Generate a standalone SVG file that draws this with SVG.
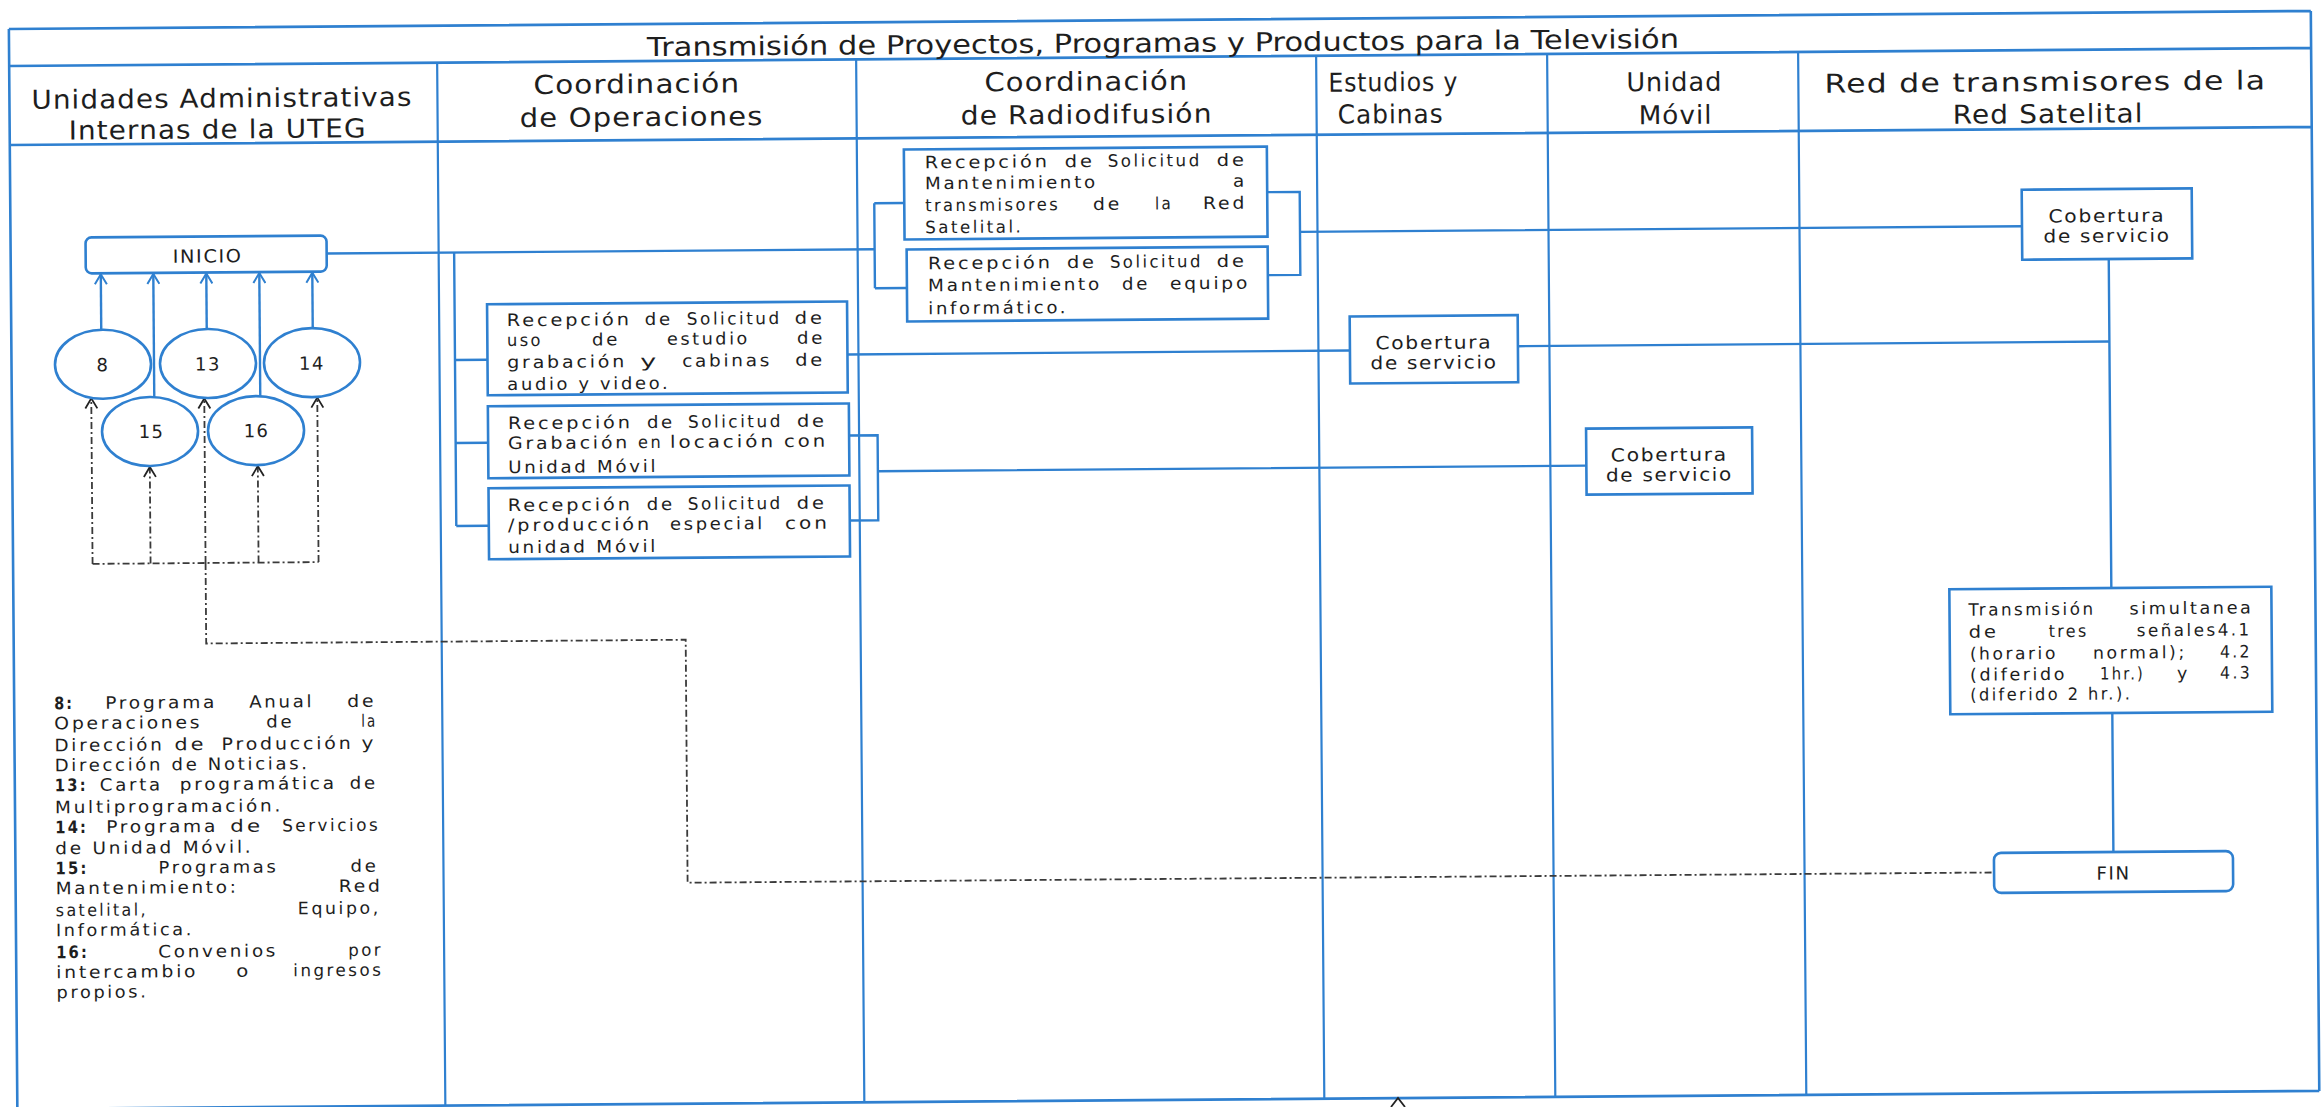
<svg xmlns="http://www.w3.org/2000/svg" width="2323" height="1107" viewBox="0 0 2323 1107">
<defs>
<style>
.fr{fill:none;stroke:#2f80d0;stroke-width:2.6}
.ls{fill:none;stroke:#2f80d0;stroke-width:2.2}
.cn{fill:none;stroke:#2f80d0;stroke-width:2.4}
.bx{fill:#fff;stroke:#2f80d0;stroke-width:2.6}
.el{fill:#fff;stroke:#2f80d0;stroke-width:2.6}
.ds{fill:none;stroke:#3a3a3a;stroke-width:1.8;stroke-dasharray:7 3 2 3}
.t{font-family:"DejaVu Sans","Liberation Sans",sans-serif;fill:#1e1e1e}
.h{font-size:26px;letter-spacing:1px}
.ti{font-size:26px}
.s16{font-size:17px;letter-spacing:2.5px}
.s18{font-size:18px;letter-spacing:1.5px}
.bd{font-weight:bold}
.mid{text-anchor:middle}
</style>
<marker id="ab" markerUnits="userSpaceOnUse" viewBox="0 0 12 14" markerWidth="12" markerHeight="14" refX="11" refY="7" orient="auto">
<path d="M1,1 L11,7 L1,13" fill="none" stroke="#2f80d0" stroke-width="2"/>
</marker>
<marker id="ak" markerUnits="userSpaceOnUse" viewBox="0 0 12 14" markerWidth="12" markerHeight="14" refX="11" refY="7" orient="auto">
<path d="M1,1 L11,7 L1,13" fill="none" stroke="#222" stroke-width="1.8" stroke-dasharray="none"/>
</marker>
</defs>
<rect width="2323" height="1107" fill="#fff"/>
<g transform="rotate(-0.45 1160 550)">
<g id="frame">
<path class="fr" d="M13,20 H2315 M13,57 H2315 M13,136 H2315 M13,20 V1100 M2315,20 V1100 M13,1100 H2315"/>
<path class="ls" d="M441,57 V1100 M860,57 V1100 M1320,57 V1100 M1551,57 V1100 M1802,57 V1100"/>
<text class="t ti" x="651" y="52" textLength="1032" lengthAdjust="spacingAndGlyphs">Transmisión de Proyectos, Programas y Productos para la Televisión</text>
<text class="t h" x="35" y="100" textLength="381" lengthAdjust="spacingAndGlyphs">Unidades Administrativas</text>
<text class="t h" x="72" y="131" textLength="298" lengthAdjust="spacingAndGlyphs">Internas de la UTEG</text>
<text class="t h" x="537" y="89" textLength="207" lengthAdjust="spacingAndGlyphs">Coordinación</text>
<text class="t h" x="523" y="122" textLength="244" lengthAdjust="spacingAndGlyphs">de Operaciones</text>
<text class="t h" x="988" y="90" textLength="204" lengthAdjust="spacingAndGlyphs">Coordinación</text>
<text class="t h" x="964" y="123" textLength="252" lengthAdjust="spacingAndGlyphs">de Radiodifusión</text>
<text class="t h" x="1332" y="93" textLength="130" lengthAdjust="spacingAndGlyphs">Estudios y</text>
<text class="t h" x="1341" y="125" textLength="106" lengthAdjust="spacingAndGlyphs">Cabinas</text>
<text class="t h" x="1630" y="95" textLength="96" lengthAdjust="spacingAndGlyphs">Unidad</text>
<text class="t h" x="1642" y="128" textLength="74" lengthAdjust="spacingAndGlyphs">Móvil</text>
<text class="t h" x="1828" y="98" textLength="442" lengthAdjust="spacingAndGlyphs">Red de transmisores de la</text>
<text class="t h" x="1956" y="130" textLength="191" lengthAdjust="spacingAndGlyphs">Red Satelital</text>
</g>
<g id="connectors">
<path class="cn" d="M329,247 H877"/>
<path class="cn" d="M456.5,247 V520.5 M456.5,354.5 H489 M456.5,437.5 H489 M456.5,520.5 H489"/>
<path class="cn" d="M877,201 V286 M877,201 H907 M877,286 H909"/>
<path class="cn" d="M1270,193 H1302.5 V276 H1270 M1302.5,233 H2024.5"/>
<path class="cn" d="M849,352 H1351.5"/>
<path class="cn" d="M1519.5,349 H2111"/>
<path class="cn" d="M850,433 H878.5 V518 H850 M878.5,469 H1587"/>
<path class="cn" d="M2111,266.5 V595.5 M2111,720.5 V859.5"/>
<path class="cn" marker-end="url(#ab)" d="M103,321.5 V266"/>
<path class="cn" marker-end="url(#ab)" d="M155.5,389 V266"/>
<path class="cn" marker-end="url(#ab)" d="M208.5,321.5 V266"/>
<path class="cn" marker-end="url(#ab)" d="M261.5,389 V266"/>
<path class="cn" marker-end="url(#ab)" d="M314.5,321.5 V266"/>
<path class="ds" d="M92.5,555.5 H318.5"/>
<path class="ds" marker-end="url(#ak)" d="M92.5,555.5 V390"/>
<path class="ds" marker-end="url(#ak)" d="M150.5,555.5 V459"/>
<path class="ds" marker-end="url(#ak)" d="M205.5,555.5 V391"/>
<path class="ds" marker-end="url(#ak)" d="M258.5,555.5 V459"/>
<path class="ds" marker-end="url(#ak)" d="M318.5,555.5 V391"/>
<path class="ds" d="M205.5,555.5 V636 H685 V879 H1991.5"/>
</g>
<g id="inicio">
<rect class="bx" x="88" y="229" width="241" height="36" rx="6"/>
<text class="t s18" x="175" y="255" textLength="70" lengthAdjust="spacingAndGlyphs">INICIO</text>
</g>
<g id="n8"><ellipse class="el" cx="104.5" cy="356" rx="48" ry="34.5"/><text class="t s18 mid" x="104.5" y="363">8</text></g>
<g id="n13"><ellipse class="el" cx="209.5" cy="356" rx="48" ry="34.5"/><text class="t s18 mid" x="209.5" y="363">13</text></g>
<g id="n14"><ellipse class="el" cx="313.5" cy="356" rx="48" ry="34.5"/><text class="t s18 mid" x="313.5" y="363">14</text></g>
<g id="n15"><ellipse class="el" cx="151" cy="423.5" rx="48" ry="34.5"/><text class="t s18 mid" x="152.5" y="430">15</text></g>
<g id="n16"><ellipse class="el" cx="257" cy="423.5" rx="48" ry="34.5"/><text class="t s18 mid" x="257.5" y="430">16</text></g>
<g id="leyenda">
<text class="t s16" y="700.5"><tspan class="bd" x="53" textLength="20" lengthAdjust="spacingAndGlyphs">8:</tspan> <tspan x="104" textLength="112" lengthAdjust="spacingAndGlyphs">Programa</tspan> <tspan x="248" textLength="65" lengthAdjust="spacingAndGlyphs">Anual</tspan> <tspan x="346" textLength="29" lengthAdjust="spacingAndGlyphs">de</tspan></text>
<text class="t s16" y="720.5"><tspan x="53" textLength="148" lengthAdjust="spacingAndGlyphs">Operaciones</tspan> <tspan x="265" textLength="28" lengthAdjust="spacingAndGlyphs">de</tspan> <tspan x="360" textLength="16" lengthAdjust="spacingAndGlyphs">la</tspan></text>
<text class="t s16" y="742.5"><tspan x="53" textLength="110" lengthAdjust="spacingAndGlyphs">Dirección</tspan> <tspan x="173" textLength="32" lengthAdjust="spacingAndGlyphs">de</tspan> <tspan x="220" textLength="132" lengthAdjust="spacingAndGlyphs">Producción</tspan> <tspan x="360" textLength="15" lengthAdjust="spacingAndGlyphs">y</tspan></text>
<text class="t s16" x="53" y="762.5" textLength="255" lengthAdjust="spacingAndGlyphs">Dirección de Noticias.</text>
<text class="t s16" y="782.5"><tspan class="bd" x="53" textLength="33" lengthAdjust="spacingAndGlyphs">13:</tspan> <tspan x="98" textLength="63" lengthAdjust="spacingAndGlyphs">Carta</tspan> <tspan x="178" textLength="157" lengthAdjust="spacingAndGlyphs">programática</tspan> <tspan x="348" textLength="28" lengthAdjust="spacingAndGlyphs">de</tspan></text>
<text class="t s16" x="53" y="804.5" textLength="228" lengthAdjust="spacingAndGlyphs">Multiprogramación.</text>
<text class="t s16" y="824.5"><tspan class="bd" x="53" textLength="33" lengthAdjust="spacingAndGlyphs">14:</tspan> <tspan x="104" textLength="112" lengthAdjust="spacingAndGlyphs">Programa</tspan> <tspan x="228" textLength="33" lengthAdjust="spacingAndGlyphs">de</tspan> <tspan x="280" textLength="98" lengthAdjust="spacingAndGlyphs">Servicios</tspan></text>
<text class="t s16" x="53" y="845.5" textLength="198" lengthAdjust="spacingAndGlyphs">de Unidad Móvil.</text>
<text class="t s16" y="865.5"><tspan class="bd" x="53" textLength="33" lengthAdjust="spacingAndGlyphs">15:</tspan> <tspan x="156" textLength="120" lengthAdjust="spacingAndGlyphs">Programas</tspan> <tspan x="348" textLength="28" lengthAdjust="spacingAndGlyphs">de</tspan></text>
<text class="t s16" y="885.5"><tspan x="53" textLength="183" lengthAdjust="spacingAndGlyphs">Mantenimiento:</tspan> <tspan x="336" textLength="44" lengthAdjust="spacingAndGlyphs">Red</tspan></text>
<text class="t s16" y="907.5"><tspan x="53" textLength="92" lengthAdjust="spacingAndGlyphs">satelital,</tspan> <tspan x="295" textLength="83" lengthAdjust="spacingAndGlyphs">Equipo,</tspan></text>
<text class="t s16" x="53" y="927.5" textLength="138" lengthAdjust="spacingAndGlyphs">Informática.</text>
<text class="t s16" y="949.5"><tspan class="bd" x="53" textLength="33" lengthAdjust="spacingAndGlyphs">16:</tspan> <tspan x="155" textLength="120" lengthAdjust="spacingAndGlyphs">Convenios</tspan> <tspan x="345" textLength="35" lengthAdjust="spacingAndGlyphs">por</tspan></text>
<text class="t s16" y="969.5"><tspan x="53" textLength="142" lengthAdjust="spacingAndGlyphs">intercambio</tspan> <tspan x="233" textLength="15" lengthAdjust="spacingAndGlyphs">o</tspan> <tspan x="290" textLength="90" lengthAdjust="spacingAndGlyphs">ingresos</tspan></text>
<text class="t s16" x="53" y="989.5" textLength="92" lengthAdjust="spacingAndGlyphs">propios.</text>
</g>
<g id="op1">
<rect class="bx" x="489" y="299" width="360" height="91"/>
<text class="t s16" y="321"><tspan x="508.6" textLength="125" lengthAdjust="spacingAndGlyphs">Recepción</tspan> <tspan x="646.6" textLength="28" lengthAdjust="spacingAndGlyphs">de</tspan> <tspan x="688.6" textLength="95" lengthAdjust="spacingAndGlyphs">Solicitud</tspan> <tspan x="796.6" textLength="30" lengthAdjust="spacingAndGlyphs">de</tspan></text>
<text class="t s16" y="341"><tspan x="508.6" textLength="36" lengthAdjust="spacingAndGlyphs">uso</tspan> <tspan x="593.6" textLength="28" lengthAdjust="spacingAndGlyphs">de</tspan> <tspan x="668.6" textLength="83" lengthAdjust="spacingAndGlyphs">estudio</tspan> <tspan x="798.6" textLength="28" lengthAdjust="spacingAndGlyphs">de</tspan></text>
<text class="t s16" y="363"><tspan x="508.6" textLength="120" lengthAdjust="spacingAndGlyphs">grabación</tspan> <tspan x="641.6" textLength="20" lengthAdjust="spacingAndGlyphs">y</tspan> <tspan x="683.6" textLength="90" lengthAdjust="spacingAndGlyphs">cabinas</tspan> <tspan x="796.6" textLength="30" lengthAdjust="spacingAndGlyphs">de</tspan></text>
<text class="t s16" x="508.6" y="385" textLength="163" lengthAdjust="spacingAndGlyphs">audio y video.</text>
</g>
<g id="op2">
<rect class="bx" x="489" y="401" width="361" height="72"/>
<text class="t s16" y="424"><tspan x="508.9" textLength="125" lengthAdjust="spacingAndGlyphs">Recepción</tspan> <tspan x="647.9" textLength="28" lengthAdjust="spacingAndGlyphs">de</tspan> <tspan x="688.9" textLength="95" lengthAdjust="spacingAndGlyphs">Solicitud</tspan> <tspan x="797.9" textLength="30" lengthAdjust="spacingAndGlyphs">de</tspan></text>
<text class="t s16" y="444"><tspan x="508.9" textLength="122" lengthAdjust="spacingAndGlyphs">Grabación</tspan> <tspan x="638.9" textLength="25" lengthAdjust="spacingAndGlyphs">en</tspan> <tspan x="670.9" textLength="106" lengthAdjust="spacingAndGlyphs">locación</tspan> <tspan x="784.9" textLength="44" lengthAdjust="spacingAndGlyphs">con</tspan></text>
<text class="t s16" x="508.9" y="468" textLength="150" lengthAdjust="spacingAndGlyphs">Unidad Móvil</text>
</g>
<g id="op3">
<rect class="bx" x="489" y="483" width="361" height="71"/>
<text class="t s16" y="506"><tspan x="508.2" textLength="125" lengthAdjust="spacingAndGlyphs">Recepción</tspan> <tspan x="647.2" textLength="28" lengthAdjust="spacingAndGlyphs">de</tspan> <tspan x="688.2" textLength="95" lengthAdjust="spacingAndGlyphs">Solicitud</tspan> <tspan x="797.2" textLength="30" lengthAdjust="spacingAndGlyphs">de</tspan></text>
<text class="t s16" y="526"><tspan x="508.2" textLength="144" lengthAdjust="spacingAndGlyphs">/producción</tspan> <tspan x="670.2" textLength="95" lengthAdjust="spacingAndGlyphs">especial</tspan> <tspan x="785.2" textLength="45" lengthAdjust="spacingAndGlyphs">con</tspan></text>
<text class="t s16" x="508.2" y="548" textLength="150" lengthAdjust="spacingAndGlyphs">unidad Móvil</text>
</g>
<g id="rd1">
<rect class="bx" x="907" y="147.5" width="363" height="90"/>
<text class="t s16" y="166.4"><tspan x="927.8" textLength="125" lengthAdjust="spacingAndGlyphs">Recepción</tspan> <tspan x="1067.8" textLength="30" lengthAdjust="spacingAndGlyphs">de</tspan> <tspan x="1110.8" textLength="94" lengthAdjust="spacingAndGlyphs">Solicitud</tspan> <tspan x="1219.8" textLength="30" lengthAdjust="spacingAndGlyphs">de</tspan></text>
<text class="t s16" y="187.4"><tspan x="927.8" textLength="173" lengthAdjust="spacingAndGlyphs">Mantenimiento</tspan> <tspan x="1235.8" textLength="14" lengthAdjust="spacingAndGlyphs">a</tspan></text>
<text class="t s16" y="209.4"><tspan x="927.8" textLength="135" lengthAdjust="spacingAndGlyphs">transmisores</tspan> <tspan x="1095.8" textLength="29" lengthAdjust="spacingAndGlyphs">de</tspan> <tspan x="1157.8" textLength="18" lengthAdjust="spacingAndGlyphs">la</tspan> <tspan x="1205.8" textLength="44" lengthAdjust="spacingAndGlyphs">Red</tspan></text>
<text class="t s16" x="927.8" y="231.4" textLength="98" lengthAdjust="spacingAndGlyphs">Satelital.</text>
</g>
<g id="rd2">
<rect class="bx" x="909" y="247.5" width="361" height="72"/>
<text class="t s16" y="267.4"><tspan x="930.1" textLength="125" lengthAdjust="spacingAndGlyphs">Recepción</tspan> <tspan x="1069.1" textLength="30" lengthAdjust="spacingAndGlyphs">de</tspan> <tspan x="1112.1" textLength="93" lengthAdjust="spacingAndGlyphs">Solicitud</tspan> <tspan x="1219.1" textLength="30" lengthAdjust="spacingAndGlyphs">de</tspan></text>
<text class="t s16" y="289.4"><tspan x="930.1" textLength="174" lengthAdjust="spacingAndGlyphs">Mantenimiento</tspan> <tspan x="1124.1" textLength="28" lengthAdjust="spacingAndGlyphs">de</tspan> <tspan x="1172.1" textLength="80" lengthAdjust="spacingAndGlyphs">equipo</tspan></text>
<text class="t s16" x="930.1" y="312.4" textLength="140" lengthAdjust="spacingAndGlyphs">informático.</text>
</g>
<g id="cob4">
<rect class="bx" x="1351.5" y="318" width="168" height="67"/>
<text class="t s18" x="1377" y="351" textLength="117" lengthAdjust="spacingAndGlyphs">Cobertura</text>
<text class="t s18" x="1372" y="371" textLength="127" lengthAdjust="spacingAndGlyphs">de servicio</text>
</g>
<g id="cob5">
<rect class="bx" x="1587" y="432" width="166" height="66"/>
<text class="t s18" x="1611.5" y="465" textLength="117" lengthAdjust="spacingAndGlyphs">Cobertura</text>
<text class="t s18" x="1606.5" y="485" textLength="127" lengthAdjust="spacingAndGlyphs">de servicio</text>
</g>
<g id="cob6">
<rect class="bx" x="2024.5" y="196.5" width="170" height="70"/>
<text class="t s18" x="2051" y="229.5" textLength="117" lengthAdjust="spacingAndGlyphs">Cobertura</text>
<text class="t s18" x="2046" y="249.5" textLength="127" lengthAdjust="spacingAndGlyphs">de servicio</text>
</g>
<g id="transmision">
<rect class="bx" x="1949" y="595.5" width="322" height="125"/>
<text class="t s16" y="622"><tspan x="1968" textLength="127" lengthAdjust="spacingAndGlyphs">Transmisión</tspan> <tspan x="2129" textLength="124" lengthAdjust="spacingAndGlyphs">simultanea</tspan></text>
<text class="t s16" y="644"><tspan x="1968" textLength="30" lengthAdjust="spacingAndGlyphs">de</tspan> <tspan x="2048" textLength="40" lengthAdjust="spacingAndGlyphs">tres</tspan> <tspan x="2136" textLength="115" lengthAdjust="spacingAndGlyphs">señales4.1</tspan></text>
<text class="t s16" y="666"><tspan x="1969" textLength="88" lengthAdjust="spacingAndGlyphs">(horario</tspan> <tspan x="2092" textLength="94" lengthAdjust="spacingAndGlyphs">normal);</tspan> <tspan x="2219" textLength="32" lengthAdjust="spacingAndGlyphs">4.2</tspan></text>
<text class="t s16" y="687"><tspan x="1969" textLength="97" lengthAdjust="spacingAndGlyphs">(diferido</tspan> <tspan x="2099" textLength="45" lengthAdjust="spacingAndGlyphs">1hr.)</tspan> <tspan x="2176" textLength="13" lengthAdjust="spacingAndGlyphs">y</tspan> <tspan x="2219" textLength="32" lengthAdjust="spacingAndGlyphs">4.3</tspan></text>
<text class="t s16" x="1969" y="707" textLength="162" lengthAdjust="spacingAndGlyphs">(diferido 2 hr.).</text>
</g>
<g id="fin">
<rect class="bx" x="1991.5" y="859.5" width="239" height="40" rx="7"/>
<text class="t s18" x="2094" y="887" textLength="34" lengthAdjust="spacingAndGlyphs">FIN</text>
</g>
</g>
<path d="M1391,1107 L1398,1098 L1405,1107" fill="none" stroke="#222" stroke-width="1.8"/>
</svg>
